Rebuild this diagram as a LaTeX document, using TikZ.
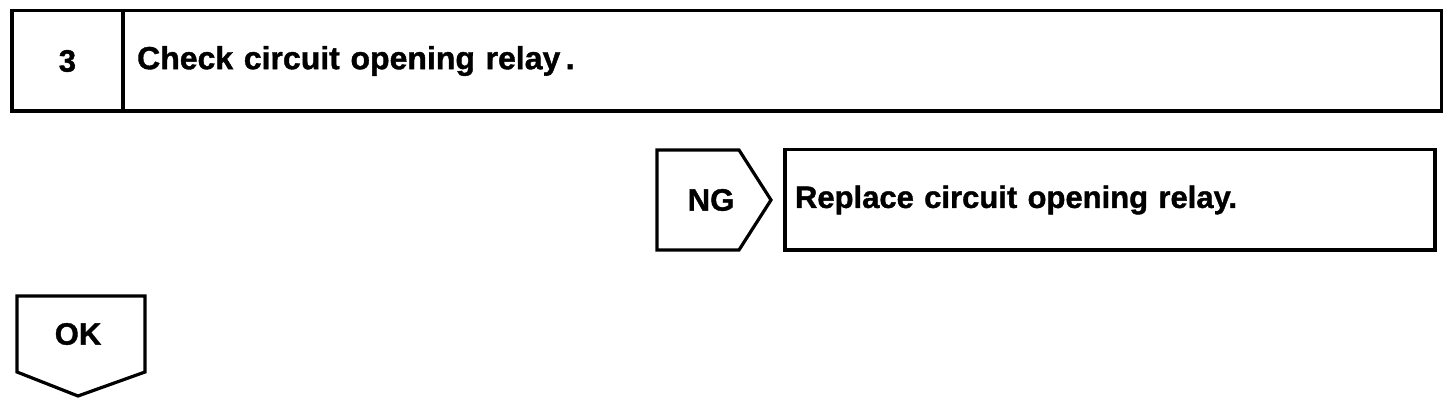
\documentclass[tikz,border=0pt]{standalone}
\usepackage{fontspec}
\setsansfont{Liberation Sans}[BoldFeatures={FakeBold=1.2}]
\usetikzlibrary{positioning}

\begin{document}
\begin{tikzpicture}[x=1pt,y=1pt,every node/.style={font=\sffamily\bfseries\fontsize{31}{37}\selectfont},frame/.style={draw,line width=3.5pt,minimum height=100.5pt,inner sep=0pt,outer sep=0pt},tag/.style={line width=3.2pt,line join=miter}]
\useasboundingbox (0,0) rectangle (1456,412);
\node[frame,minimum width=111.25pt] (num) at (67.4,351) {3};
\node[frame,right=0pt of num,minimum width=1318.25pt,text width=1290pt,inner xsep=14pt,align=left,font=\sffamily\bfseries\fontsize{32}{38}\selectfont] (check) {Check circuit opening relay\,.};
% NG branch
\node (ng) at (711,212) {NG};
\draw[tag] (657,262) -- (739,262) -- (771,212) -- (739,162) -- (657,162) -- cycle;
\node[frame,anchor=west,minimum width=650pt,text width=630pt,inner xsep=10pt,align=left] (replace) at (785,212) {Replace circuit opening relay.};
% OK branch
\node (ok) at (78,78) {OK};
\draw[tag] (17,116) -- (145,116) -- (145,40) -- (78,16) -- (17,40) -- cycle;
\end{tikzpicture}
\end{document}
